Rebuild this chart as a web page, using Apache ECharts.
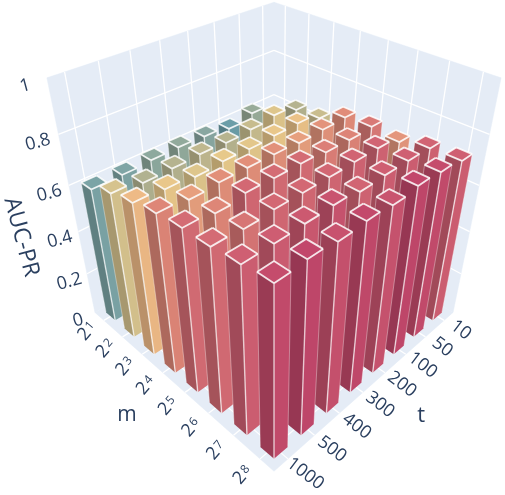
<!DOCTYPE html>
<html><head><meta charset="utf-8">
<style>html,body{margin:0;padding:0;background:#fff}#c{width:505px;height:495px}</style>
<script src="https://cdn.jsdelivr.net/npm/echarts@6/dist/echarts.min.js"></script>
</head><body><div id="c"></div>
<script>
const mExponents=['1','2','3','4','5','6','7','8'];
const tLabels=['10','50','100','200','300','400','500','1000'];
const zTicks=[0,0.2,0.4,0.6,0.8,1];
const aucM1=[.572,.625,.603,.618,.622,.620,.614,.612];
const aucM2=[.640,.662,.648,.641,.645,.640,.638,.655];
const aucM3=[.649,.674,.671,.666,.669,.662,.671,.679];
const aucM4=[.699,.696,.691,.697,.698,.698,.691,.702];
const aucM5=[.708,.703,.705,.714,.714,.717,.702,.714];
const aucM6=[.695,.721,.721,.718,.717,.717,.710,.715];
const aucM7=[.721,.725,.725,.721,.732,.729,.726,.725];
const aucM8=[.725,.737,.743,.732,.739,.733,.743,.737];
const vals=[aucM1,aucM2,aucM3,aucM4,aucM5,aucM6,aucM7,aucM8];
const stops=[[.575,'#2b7eb8'],[.603,'#6b9ea8'],[.614,'#7fa5a5'],[.624,'#97ab9a'],[.64,'#b5b38f'],[.655,'#d6c38e'],[.67,'#e8c98a'],[.68,'#efb886'],[.70,'#e08a78'],[.714,'#d46c74'],[.725,'#cf5f72'],[.74,'#c2476b']];
function colorOf(v){if(v<=stops[0][0])return stops[0][1];
 for(let k=1;k<stops.length;k++){if(v<=stops[k][0]){const t=(v-stops[k-1][0])/(stops[k][0]-stops[k-1][0]);return echarts.color.lerp(t,[stops[k-1][1],stops[k][1]]);}}
 return stops[stops.length-1][1];}
function shade(c,k){const a=echarts.color.parse(c);return 'rgb('+Math.round(a[0]*k)+','+Math.round(a[1]*k)+','+Math.round(a[2]*k)+')';}
const CX=274,CY=209,F=691,D=4.88,s2=Math.SQRT2,s3=Math.sqrt(3),s6=Math.sqrt(6);
function proj(X,Y,Z){const sx=(X-Y)/s2,sy=(-X-Y+2*Z)/s6,d=D-(X+Y+Z)/s3;return [CX+F*sx/d,CY-F*sy/d];}
const nm=mExponents.length,nt=tLabels.length;
const sX=i=>echarts.number.linearMap(i,[-0.5,nm-0.5],[-1,1]);
const sY=j=>echarts.number.linearMap(j,[-0.5,nt-0.5],[-1,1]);
const sZ=z=>echarts.number.linearMap(z,[0,1],[-1,1]);
const h=0.25*2/nm;
const data=[];for(let i=0;i<nm;i++)for(let j=0;j<nt;j++)data.push([i,j,vals[i][j]]);
const TXT='#2a3f5f',FF='"Open Sans",sans-serif';
const tx=(x,y,rot,text,size)=>({type:'text',x:x,y:y,rotation:rot*Math.PI/180,style:{text:text,fill:TXT,font:size+'px '+FF,align:'center',verticalAlign:'middle'}});
function sceneItem(){const ch=[];
 const poly=(pts)=>({type:'polygon',shape:{points:pts},style:{fill:'#E5ECF6',stroke:'#E5ECF6',lineWidth:.5}});
 const ln=(a,b)=>({type:'line',shape:{x1:a[0],y1:a[1],x2:b[0],y2:b[1]},style:{stroke:'#fff',lineWidth:1.3}});
 ch.push(poly([proj(-1,1,1),proj(-1,-1,1),proj(-1,-1,-1),proj(-1,1,-1)]));
 ch.push(poly([proj(1,-1,1),proj(-1,-1,1),proj(-1,-1,-1),proj(1,-1,-1)]));
 ch.push(poly([proj(-1,1,-1),proj(-1,-1,-1),proj(1,-1,-1),proj(1,1,-1)]));
 for(const z of zTicks){const Z=sZ(z);
  if(z>0&&z<1){ch.push(ln(proj(-1,1,Z),proj(-1,-1,Z)));ch.push(ln(proj(1,-1,Z),proj(-1,-1,Z)));}
  const p=proj(-1.1,1.1,Z);
  ch.push(tx(p[0]+1,p[1]+8,15,String(z),18));}
 for(let j=0;j<nt;j++){const Y=sY(j);
  ch.push(ln(proj(-1,Y,1),proj(-1,Y,-1)));ch.push(ln(proj(-1,Y,-1),proj(1,Y,-1)));
  const p=proj(1.15,Y,-1);
  ch.push(tx(p[0],p[1],-37,tLabels[j],18));}
 for(let i=0;i<nm;i++){const X=sX(i);
  ch.push(ln(proj(X,-1,1),proj(X,-1,-1)));ch.push(ln(proj(X,-1,-1),proj(X,1,-1)));
  const p=proj(X,1.15,-1);
  ch.push({type:'group',x:p[0],y:p[1],rotation:50*Math.PI/180,children:[tx(-5,0.6,0,'2',18),tx(5,-0.8,0,mExponents[i],12)]});}
 const m=proj(0,1.4,-1),t=proj(1.4,0,-1),a=proj(-1.3,1.3,-0.25);
 ch.push(tx(m[0],m[1],0,'m',21));
 ch.push(tx(t[0],t[1],0,'t',22));
 ch.push(tx(a[0],a[1],-75,'AUC-PR',23));
 return {type:'group',children:ch};}
function barItem(params,api){const i=api.value(0),j=api.value(1),v=api.value(2);
 const X=sX(i),Y=sY(j),Zt=sZ(v),Zb=-1,c=colorOf(v);
 const tL=proj(X-h,Y+h,Zt),tF=proj(X+h,Y+h,Zt),tR=proj(X+h,Y-h,Zt),tB=proj(X-h,Y-h,Zt);
 const bL=proj(X-h,Y+h,Zb),bF=proj(X+h,Y+h,Zb),bR=proj(X+h,Y-h,Zb);
 const ln=(a,b,o,w)=>({type:'line',shape:{x1:a[0],y1:a[1],x2:b[0],y2:b[1]},style:{stroke:'rgba(255,255,255,'+o+')',lineWidth:w}});
 return {type:'group',children:[
  {type:'polygon',shape:{points:[tL,tF,bF,bL]},style:{fill:shade(c,0.78)}},
  {type:'polygon',shape:{points:[tF,tR,bR,bF]},style:{fill:shade(c,0.98)}},
  {type:'polygon',shape:{points:[tL,tF,tR,tB]},style:{fill:c}},
  ln(tL,bL,.35,1),ln(tR,bR,.35,1),ln(tF,bF,.7,1.4),
  ln(tL,tF,.85,1.8),ln(tF,tR,.85,1.8),ln(tR,tB,.85,1.8),ln(tB,tL,.85,1.8)]};}
const chart=echarts.init(document.getElementById('c'));
chart.setOption({animation:false,series:[
 {type:'custom',coordinateSystem:'none',silent:true,data:[[0]],renderItem:sceneItem,z:1},
 {type:'custom',coordinateSystem:'none',silent:true,data:data,renderItem:barItem,encode:{x:0,y:1},z:2}]});
</script></body></html>
